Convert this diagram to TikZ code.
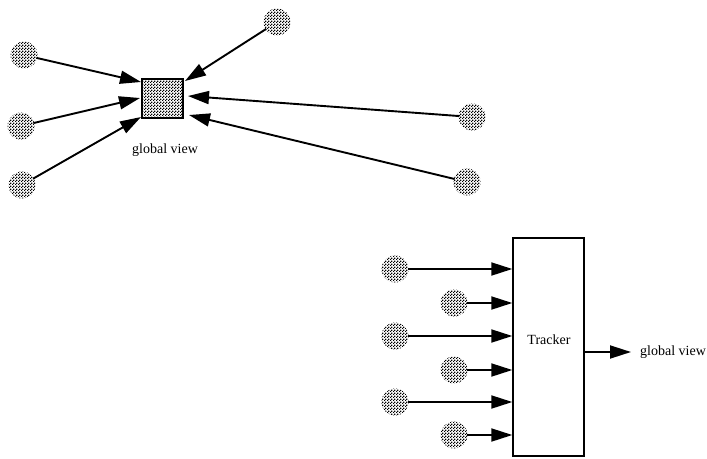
\documentclass[tikz,border=0pt]{standalone}
\usepackage{fontspec}
\setmainfont{Liberation Serif}
\usetikzlibrary{arrows.meta,patterns.meta}
\tikzdeclarepattern{
  name=checker,
  type=uncolored,
  bounding box={(0pt,0pt) and (3pt,3pt)},
  tile size={(3pt,3pt)},
  code={
    \fill (0pt,0pt) rectangle (1.5pt,1.5pt);
    \fill (1.5pt,1.5pt) rectangle (3pt,3pt);
  }
}
\tikzset{
  dotnode/.style={circle, minimum size=27pt, inner sep=0pt, pattern=checker, pattern color=black},
  arr/.style={-{Triangle[length=21pt,width=13pt]}, line width=1.9pt, shorten <=-1pt},
  lbl/.style={font=\fontsize{14}{16}\selectfont, inner sep=0pt},
}
\begin{document}
\begin{tikzpicture}[x=1pt,y=-1pt]
\useasboundingbox (0,0) rectangle (707,458);
% top group
\node[draw, line width=1.8pt, pattern=checker, pattern color=black, minimum width=41pt, minimum height=39pt, inner sep=0pt] (sq) at (162.5,98.5) {};
\node[lbl] (gv1) at (165,150) {global view};
\node[dotnode] (a1) at (24,55) {};
\node[dotnode] (a2) at (21,126) {};
\node[dotnode] (a3) at (22,185) {};
\node[dotnode] (a4) at (277,22) {};
\node[dotnode] (a5) at (472,117) {};
\node[dotnode] (a6) at (467,182) {};
\coordinate (e1) at (141,82);
\coordinate (e2) at (140,98);
\coordinate (e3) at (141,117);
\coordinate (e4) at (185,81);
\coordinate (e5) at (188,96);
\coordinate (e6) at (189,115);
\draw[arr] (a1) -- (e1);
\draw[arr] (a2) -- (e2);
\draw[arr] (a3) -- (e3);
\draw[arr] (a4) -- (e4);
\draw[arr] (a5) -- (e5);
\draw[arr] (a6) -- (e6);
% bottom group
\node[draw, line width=1.4pt, minimum width=71pt, minimum height=218pt, inner sep=0pt] (tr) at (548.5,347) {};
\node[lbl] (trl) at (549,340) {Tracker};
\node[dotnode] (b1) at (395,269) {};
\node[dotnode] (b2) at (454,303) {};
\node[dotnode] (b3) at (395,336) {};
\node[dotnode] (b4) at (454,370) {};
\node[dotnode] (b5) at (395,402) {};
\node[dotnode] (b6) at (454,435) {};
\draw[arr] (b1) -- (b1 -| tr.west);
\draw[arr] (b2) -- (b2 -| tr.west);
\draw[arr] (b3) -- (b3 -| tr.west);
\draw[arr] (b4) -- (b4 -| tr.west);
\draw[arr] (b5) -- (b5 -| tr.west);
\draw[arr] (b6) -- (b6 -| tr.west);
\node[lbl, anchor=west] (gv2) at (640,352) {global view};
\coordinate (out) at (631,352);
\draw[arr] (tr.east |- out) -- (out);
\end{tikzpicture}
\end{document}
